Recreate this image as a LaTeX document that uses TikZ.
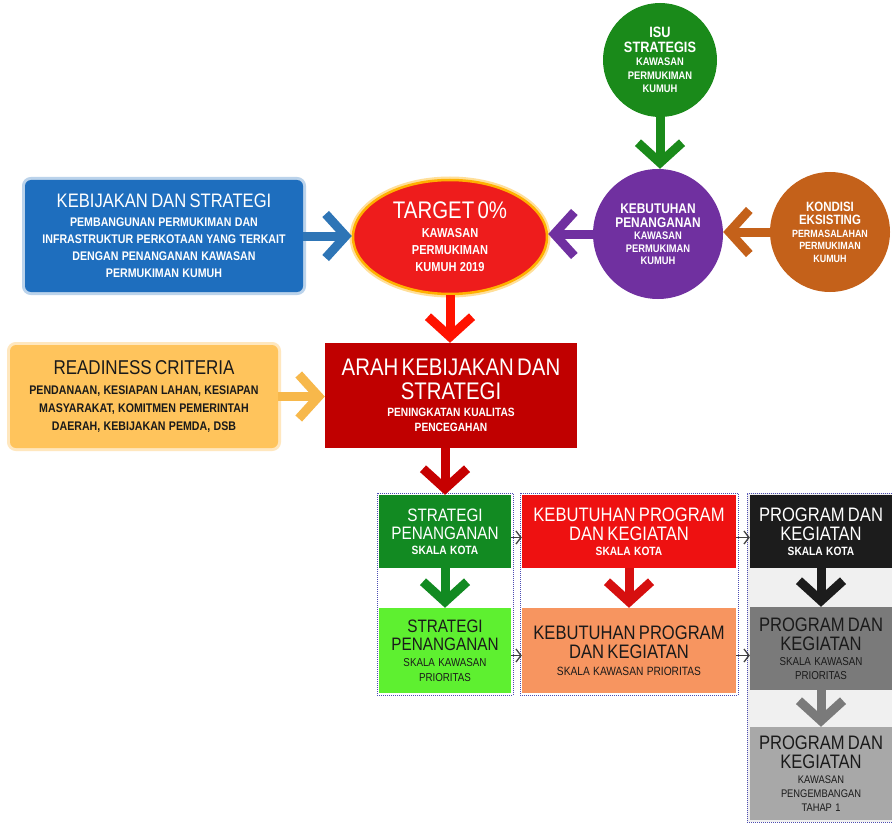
\documentclass[tikz,border=0pt]{standalone}
\usepackage{fontspec}
\setmainfont{Liberation Sans}
\newfontfamily\nf{Liberation Sans}[FakeStretch=0.85]
\usetikzlibrary{arrows.meta,shapes.geometric}
\newcommand\FS[2]{\fontsize{#1}{#2}\selectfont}
\definecolor{cgreen}{HTML}{1A8A1A}
\definecolor{cpurple}{HTML}{7030A0}
\definecolor{corange}{HTML}{C4611A}
\definecolor{cred}{HTML}{EE1C1C}
\definecolor{cglow}{HTML}{FFB000}
\definecolor{cblue}{HTML}{1E6EBE}
\definecolor{cbluearr}{HTML}{2E75B6}
\definecolor{cyellow}{HTML}{FFC45C}
\definecolor{cyellowarr}{HTML}{F7B84B}
\definecolor{cdarkred}{HTML}{C00000}
\definecolor{gone}{HTML}{128A22}
\definecolor{gtwo}{HTML}{5EF030}
\definecolor{rone}{HTML}{EE1111}
\definecolor{rtwo}{HTML}{F79560}
\definecolor{kone}{HTML}{1C1C1C}
\definecolor{ktwo}{HTML}{7A7A7A}
\definecolor{kthree}{HTML}{A8A8A8}
\definecolor{ctext}{HTML}{1A1A1A}
\begin{document}
\begin{tikzpicture}[x=1pt,y=-1pt,
  font=\nf,
  circ/.style={circle, inner sep=0pt, text=white, align=center},
  bigarrow/.style={line width=9pt, -{Straight Barb[length=20pt,width=44pt]}},
  smallarrow/.style={draw=black!75, line width=1.3pt, -{Straight Barb[length=5pt,width=13pt]}},
  frame/.style={draw=blue!40!gray, densely dotted, line width=1pt, inner sep=0pt},
  colbox/.style={inner sep=0pt, align=center},
  glowbox/.style={rounded corners=6pt, inner sep=0pt, align=center}
]
\useasboundingbox[fill=white] (0,0) rectangle (892,824);

% ---------- circles ----------
\node[circ, fill=cgreen, minimum size=114pt, text width=86pt] (isu) at (660,60)
  {\FS{15}{15}\bfseries ISU\\STRATEGIS\par\FS{11}{13.5}KAWASAN\\PERMUKIMAN\\KUMUH\par};
\node[circ, fill=cpurple, minimum size=130pt, text width=92pt] (keb) at (658,234)
  {\FS{14}{14}\bfseries KEBUTUHAN\\PENANGANAN\par\FS{11}{12.5}KAWASAN\\PERMUKIMAN\\KUMUH\par};
\node[circ, fill=corange, minimum size=120pt, text width=88pt] (kond) at (830,232)
  {\FS{13.5}{13.5}\bfseries KONDISI\\EKSISTING\par\FS{10.5}{12.5}PERMASALAHAN\\PERMUKIMAN\\KUMUH\par};

% ---------- target ellipse ----------
\node[ellipse, fill=cred, draw=cglow, line width=2.5pt,
      preaction={draw=cglow!40, line width=7pt},
      minimum width=194pt, minimum height=114pt, inner sep=0pt, text width=124pt,
      text=white, align=center] (ell) at (450,237)
  {\FS{24}{24}TARGET 0\%\par\vspace{2pt}\FS{13}{17}\bfseries KAWASAN\\PERMUKIMAN\\KUMUH 2019\par};

% ---------- blue box ----------
\node[glowbox, fill=cblue, preaction={draw=cblue!30, line width=6pt},
      minimum width=278pt, minimum height=112pt, text width=272pt, text=white] (kbs) at (164,236)
  {\FS{19.5}{20}KEBIJAKAN DAN STRATEGI\par\vspace{2pt}\FS{12.5}{17}\bfseries PEMBANGUNAN PERMUKIMAN DAN\\
   INFRASTRUKTUR PERKOTAAN YANG TERKAIT\\DENGAN PENANGANAN KAWASAN\\PERMUKIMAN KUMUH\par};

% ---------- readiness box ----------
\node[glowbox, fill=cyellow, preaction={draw=cyellow!40, line width=6pt},
      minimum width=268pt, minimum height=103pt, text width=264pt, text=ctext] (ready) at (144,396.5)
  {\FS{20}{20}READINESS CRITERIA\par\vspace{2pt}\FS{12.5}{18}\bfseries PENDANAAN, KESIAPAN LAHAN, KESIAPAN\\
   MASYARAKAT, KOMITMEN PEMERINTAH\\DAERAH, KEBIJAKAN PEMDA, DSB\par};

% ---------- arah box ----------
\node[fill=cdarkred, minimum width=252pt, minimum height=105pt, inner sep=0pt, text width=248pt,
      text=white, align=center] (arah) at (451,395.5)
  {\FS{24}{24}ARAH KEBIJAKAN DAN\\STRATEGI\par\vspace{2pt}\FS{12}{15}\bfseries PENINGKATAN KUALITAS\\PENCEGAHAN\par};

% ---------- column frames ----------
\node[frame, fill=white, minimum width=136pt, minimum height=202pt] (fone) at (445,594) {};
\node[frame, fill=white, minimum width=218pt, minimum height=202pt] (ftwo) at (629,594) {};
\node[frame, fill=black!6, minimum width=146pt, minimum height=329pt] (fthree) at (820,657.5) {};

% ---------- column boxes ----------
\node[colbox, fill=gone, text=white, minimum width=132pt, minimum height=73pt, text width=130pt] (sone) at (445,531.5)
  {\FS{18}{18}STRATEGI\\PENANGANAN\par\vspace{1pt}\FS{12}{14}\bfseries SKALA KOTA\par};
\node[colbox, fill=gtwo, text=ctext, minimum width=132pt, minimum height=85pt, text width=130pt] (stwo) at (445,650.5)
  {\FS{18}{18}STRATEGI\\PENANGANAN\par\vspace{1pt}\FS{11.5}{15}SKALA KAWASAN\\PRIORITAS\par};
\node[colbox, fill=rone, text=white, minimum width=214pt, minimum height=73pt, text width=212pt] (kone) at (629,531.5)
  {\FS{19.5}{19.5}KEBUTUHAN PROGRAM\\DAN KEGIATAN\par\vspace{1pt}\FS{12}{14}\bfseries SKALA KOTA\par};
\node[colbox, fill=rtwo, text=ctext, minimum width=214pt, minimum height=85pt, text width=212pt] (ktwo) at (629,650.5)
  {\FS{19.5}{19.5}KEBUTUHAN PROGRAM\\DAN KEGIATAN\par\vspace{3pt}\FS{12}{14}SKALA KAWASAN PRIORITAS\par};
\node[colbox, fill=kone, text=white, minimum width=142pt, minimum height=73pt, text width=142pt] (pone) at (821,531.5)
  {\FS{19.5}{19.5}PROGRAM DAN\\KEGIATAN\par\vspace{1pt}\FS{12}{14}\bfseries SKALA KOTA\par};
\node[colbox, fill=ktwo, text=ctext, minimum width=142pt, minimum height=83pt, text width=142pt] (ptwo) at (821,648.5)
  {\FS{19.5}{19.5}PROGRAM DAN\\KEGIATAN\par\vspace{1pt}\FS{11.5}{14}SKALA KAWASAN\\PRIORITAS\par};
\node[colbox, fill=kthree, text=ctext, minimum width=142pt, minimum height=93pt, text width=142pt] (pthree) at (821,773.5)
  {\FS{19.5}{19.5}PROGRAM DAN\\KEGIATAN\par\vspace{1pt}\FS{11}{14}KAWASAN\\PENGEMBANGAN\\TAHAP 1\par};

% ---------- big arrows ----------
\draw[bigarrow, cgreen] (isu.south) -- (isu.south |- keb.north);
\draw[bigarrow, corange] (kond.west) -- (kond.west -| keb.east);
\draw[bigarrow, cpurple] (keb.west) -- (keb.west -| ell.east);
\draw[bigarrow, cbluearr] (kbs.east) -- (kbs.east -| ell.west);
\draw[bigarrow, cyellowarr] (ready.east) -- (ready.east -| arah.west);
\draw[bigarrow, red!85!orange] (ell.south) -- (ell.south |- arah.north);
\draw[bigarrow, cdarkred!90!red] (sone.north |- arah.south) -- (sone.north);
\draw[bigarrow, gone] (sone.south) -- (stwo.north);
\draw[bigarrow, rone!90!black] (kone.south) -- (ktwo.north);
\draw[bigarrow, kone] (pone.south) -- (ptwo.north);
\draw[bigarrow, ktwo] (ptwo.south) -- (pthree.north);

% ---------- small arrows ----------
\draw[smallarrow] ([yshift=-6pt]sone.east) -- ([yshift=-6pt]sone.east -| kone.west);
\draw[smallarrow] ([yshift=-6pt]kone.east) -- ([yshift=-6pt]kone.east -| pone.west);
\draw[smallarrow] ([yshift=-5pt]stwo.east) -- ([yshift=-5pt]stwo.east -| ktwo.west);
\draw[smallarrow] ([yshift=-5pt]ktwo.east) -- ([yshift=-5pt]ktwo.east -| ptwo.west);
\end{tikzpicture}
\end{document}
